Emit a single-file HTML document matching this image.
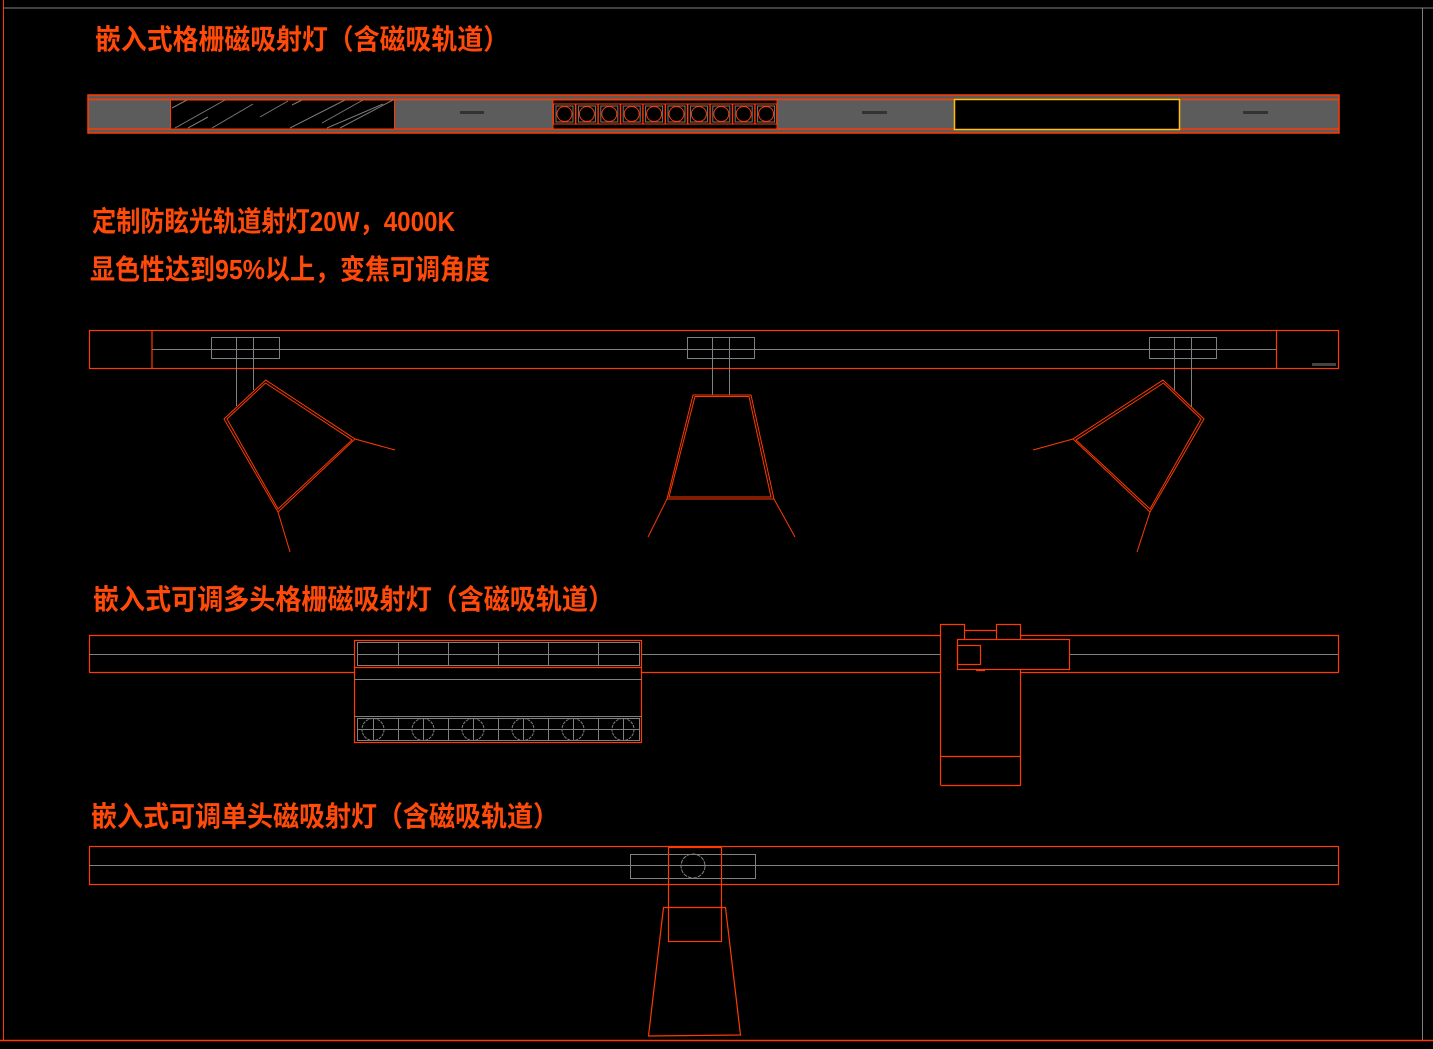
<!DOCTYPE html>
<html><head><meta charset="utf-8"><style>
html,body{margin:0;padding:0;background:#000;}
svg{display:block;}
text{font-family:"Liberation Sans","Noto Sans CJK SC","WenQuanYi Zen Hei",sans-serif;font-weight:bold;fill:#ff4a0a;}
</style></head><body>
<svg width="1433" height="1049" viewBox="0 0 1433 1049" xmlns="http://www.w3.org/2000/svg">
<rect width="1433" height="1049" fill="#000"/>
<!-- frame -->
<line x1="3" y1="8" x2="1433" y2="8" stroke="#808080" stroke-width="1"/>
<line x1="3.5" y1="0" x2="3.5" y2="1040" stroke="#ff3a00" stroke-width="1"/>
<line x1="1422.5" y1="8" x2="1422.5" y2="1040" stroke="#808080" stroke-width="1"/>
<line x1="0" y1="1040.5" x2="1433" y2="1040.5" stroke="#ff3a00" stroke-width="1.5"/>

<!-- titles -->
<text x="95" y="49" font-size="28" textLength="414" lengthAdjust="spacingAndGlyphs">嵌入式格栅磁吸射灯（含磁吸轨道）</text>
<text x="92" y="231" font-size="28" textLength="363" lengthAdjust="spacingAndGlyphs">定制防眩光轨道射灯20W，4000K</text>
<text x="90" y="279" font-size="28" textLength="400" lengthAdjust="spacingAndGlyphs">显色性达到95%以上，变焦可调角度</text>
<text x="93" y="609" font-size="28" textLength="521" lengthAdjust="spacingAndGlyphs">嵌入式可调多头格栅磁吸射灯（含磁吸轨道）</text>
<text x="91" y="826" font-size="28" textLength="468" lengthAdjust="spacingAndGlyphs">嵌入式可调单头磁吸射灯（含磁吸轨道）</text>

<!-- top bar -->
<rect x="88" y="95" width="1251" height="38" fill="#5c5c5c" stroke="#ff3a00" stroke-width="1.5"/>
<line x1="88" y1="99.5" x2="1339" y2="99.5" stroke="#ff3a00" stroke-width="1.5"/>
<line x1="88" y1="129" x2="1339" y2="129" stroke="#ff3a00" stroke-width="1.5"/>
<rect x="170.5" y="100" width="224" height="29" fill="#000" stroke="#ff3a00" stroke-width="1"/>
<g stroke="#7a7a7a" stroke-width="1">
<line x1="172" y1="108" x2="187" y2="100"/><line x1="175" y1="128" x2="225" y2="100"/>
<line x1="188" y1="128" x2="208" y2="117"/><line x1="212" y1="128" x2="253" y2="104"/>
<line x1="260" y1="117" x2="288" y2="101"/><line x1="292" y1="105" x2="302" y2="100"/>
<line x1="290" y1="128" x2="345" y2="100"/><line x1="322" y1="123" x2="363" y2="100"/>
<line x1="327" y1="128" x2="383" y2="104"/><line x1="340" y1="128" x2="393" y2="100"/>
</g>
<rect x="553" y="100" width="224" height="29" fill="#000" stroke="#ff3a00" stroke-width="1"/>
<g fill="none">
<rect x="553.5" y="104" width="22" height="20" stroke="#ff3a00"/><rect x="556" y="106" width="17" height="16" stroke="#777"/><circle cx="564.5" cy="114" r="7.5" stroke="#ff3a00"/>
<rect x="575.9" y="104" width="22" height="20" stroke="#ff3a00"/><rect x="578.4" y="106" width="17" height="16" stroke="#777"/><circle cx="586.9" cy="114" r="7.5" stroke="#ff3a00"/>
<rect x="598.3" y="104" width="22" height="20" stroke="#ff3a00"/><rect x="600.8" y="106" width="17" height="16" stroke="#777"/><circle cx="609.3" cy="114" r="7.5" stroke="#ff3a00"/>
<rect x="620.7" y="104" width="22" height="20" stroke="#ff3a00"/><rect x="623.2" y="106" width="17" height="16" stroke="#777"/><circle cx="631.7" cy="114" r="7.5" stroke="#ff3a00"/>
<rect x="643.1" y="104" width="22" height="20" stroke="#ff3a00"/><rect x="645.6" y="106" width="17" height="16" stroke="#777"/><circle cx="654.1" cy="114" r="7.5" stroke="#ff3a00"/>
<rect x="665.5" y="104" width="22" height="20" stroke="#ff3a00"/><rect x="668" y="106" width="17" height="16" stroke="#777"/><circle cx="676.5" cy="114" r="7.5" stroke="#ff3a00"/>
<rect x="687.9" y="104" width="22" height="20" stroke="#ff3a00"/><rect x="690.4" y="106" width="17" height="16" stroke="#777"/><circle cx="698.9" cy="114" r="7.5" stroke="#ff3a00"/>
<rect x="710.3" y="104" width="22" height="20" stroke="#ff3a00"/><rect x="712.8" y="106" width="17" height="16" stroke="#777"/><circle cx="721.3" cy="114" r="7.5" stroke="#ff3a00"/>
<rect x="732.7" y="104" width="22" height="20" stroke="#ff3a00"/><rect x="735.2" y="106" width="17" height="16" stroke="#777"/><circle cx="743.7" cy="114" r="7.5" stroke="#ff3a00"/>
<rect x="755.1" y="104" width="21.5" height="20" stroke="#ff3a00"/><rect x="757.6" y="106" width="17" height="16" stroke="#777"/><circle cx="766.1" cy="114" r="7.5" stroke="#ff3a00"/>
</g>
<rect x="954.5" y="99.5" width="225" height="30" fill="#000" stroke="#ffc000" stroke-width="1.5"/>
<g fill="#333"><rect x="460" y="111" width="24" height="3"/><rect x="862" y="111" width="25" height="3"/><rect x="1243" y="111" width="25" height="3"/></g>

<!-- track 2 -->
<g fill="none" stroke="#ff3a00" stroke-width="1.2">
<rect x="89.5" y="330.5" width="1249" height="38"/>
<line x1="152" y1="330" x2="152" y2="368"/><line x1="1276.5" y1="330" x2="1276.5" y2="368"/>
</g>
<g fill="none" stroke="#808080" stroke-width="1">
<line x1="152" y1="349.5" x2="1276" y2="349.5"/>
<rect x="211.5" y="337.5" width="68" height="21"/><line x1="236.5" y1="337" x2="236.5" y2="406"/><line x1="253.5" y1="337" x2="253.5" y2="390"/>
<rect x="687.5" y="337.5" width="67" height="21"/><line x1="712.5" y1="337" x2="712.5" y2="395"/><line x1="729.5" y1="337" x2="729.5" y2="395"/>
<rect x="1149.5" y="337.5" width="67" height="21"/><line x1="1174.5" y1="337" x2="1174.5" y2="390"/><line x1="1191.5" y1="337" x2="1191.5" y2="407"/>
</g>
<rect x="1312" y="363" width="24" height="3" fill="#444"/>
<g fill="none" stroke="#ff3a00" stroke-width="1">
<polygon points="265.7,380 355,439 278,512 224,419"/>
<polygon points="265.5,383 352,440 278,509 227,419"/>
<polyline points="355,439 395,450"/><polyline points="278,512 290,552"/>
<polygon points="1163,380 1073,439 1150,512 1204,419"/>
<polygon points="1163.5,383 1076,440 1150,509 1201,419"/>
<polyline points="1073,439 1033,450"/><polyline points="1150,512 1137,552"/>
<polygon points="693,395 751,395 774,499 667,499"/>
<polygon points="695,396.5 749,396.5 771,497 669,497"/>
<polyline points="667,499 648,537"/><polyline points="774,499 795,537"/>
</g>

<!-- track 3 -->
<g fill="none" stroke="#ff3a00" stroke-width="1.2">
<line x1="89.5" y1="635" x2="89.5" y2="672"/><line x1="1338.5" y1="635" x2="1338.5" y2="672"/>
<line x1="89" y1="635.5" x2="940" y2="635.5"/><line x1="1020" y1="635.5" x2="1339" y2="635.5"/>
<line x1="89" y1="672.5" x2="940" y2="672.5"/><line x1="1020" y1="672.5" x2="1339" y2="672.5"/>
</g>
<g stroke="#808080" stroke-width="1">
<line x1="89" y1="654.5" x2="940" y2="654.5"/><line x1="1069" y1="654.5" x2="1338" y2="654.5"/>
</g>
<rect x="354.5" y="640.5" width="287" height="102" fill="#000" stroke="#ff3a00" stroke-width="1.2"/>
<line x1="354" y1="667.5" x2="642" y2="667.5" stroke="#ff3a00" stroke-width="1.2"/>
<g fill="none" stroke="#808080" stroke-width="1">
<rect x="357.5" y="642.5" width="282" height="23"/><line x1="357" y1="654.5" x2="640" y2="654.5"/>
<line x1="398.5" y1="642" x2="398.5" y2="666"/><line x1="448.5" y1="642" x2="448.5" y2="666"/><line x1="498.5" y1="642" x2="498.5" y2="666"/><line x1="548.5" y1="642" x2="548.5" y2="666"/><line x1="598.5" y1="642" x2="598.5" y2="666"/>
<line x1="354" y1="679.5" x2="642" y2="679.5"/><line x1="354" y1="716.5" x2="642" y2="716.5"/>
<rect x="357.5" y="718.5" width="282" height="22"/><line x1="357" y1="729.5" x2="640" y2="729.5"/>
<line x1="398.5" y1="718" x2="398.5" y2="741"/><line x1="448.5" y1="718" x2="448.5" y2="741"/><line x1="498.5" y1="718" x2="498.5" y2="741"/><line x1="548.5" y1="718" x2="548.5" y2="741"/><line x1="598.5" y1="718" x2="598.5" y2="741"/>
<circle cx="373" cy="729.5" r="11" stroke-dasharray="3 1"/><line x1="373.5" y1="718" x2="373.5" y2="741"/>
<circle cx="423" cy="729.5" r="11" stroke-dasharray="3 1"/><line x1="423.5" y1="718" x2="423.5" y2="741"/>
<circle cx="473" cy="729.5" r="11" stroke-dasharray="3 1"/><line x1="473.5" y1="718" x2="473.5" y2="741"/>
<circle cx="523" cy="729.5" r="11" stroke-dasharray="3 1"/><line x1="523.5" y1="718" x2="523.5" y2="741"/>
<circle cx="573" cy="729.5" r="11" stroke-dasharray="3 1"/><line x1="573.5" y1="718" x2="573.5" y2="741"/>
<circle cx="623" cy="729.5" r="11" stroke-dasharray="3 1"/><line x1="623.5" y1="718" x2="623.5" y2="741"/>
</g>
<g fill="none" stroke="#ff3a00" stroke-width="1.2">
<polyline points="940.5,785 940.5,624.5 964.5,624.5 964.5,639"/>
<line x1="964" y1="630.5" x2="996" y2="630.5"/>
<polyline points="996.5,639 996.5,624.5 1020.5,624.5 1020.5,785.5 940.5,785.5"/>
<line x1="940" y1="756.5" x2="1020" y2="756.5"/>
<rect x="957.5" y="639.5" width="112" height="30" fill="#000"/>
<rect x="957.5" y="645.5" width="23" height="19"/>
<line x1="976" y1="670.5" x2="985" y2="670.5"/>
</g>

<!-- track 4 -->
<g fill="none" stroke="#ff3a00" stroke-width="1.2">
<rect x="89.5" y="846.5" width="1249" height="38"/>
</g>
<g fill="none" stroke="#808080" stroke-width="1">
<line x1="89" y1="865.5" x2="1338" y2="865.5"/>
<rect x="630.5" y="854.5" width="125" height="24"/>
<circle cx="693" cy="866" r="12" stroke-dasharray="4 1"/>
</g>
<g fill="none" stroke="#ff3a00" stroke-width="1.2">
<rect x="668.5" y="847.5" width="53" height="94"/>
<polygon points="663.5,907.5 725.5,907.5 740.5,1035 648.5,1036"/>
</g>
</svg>
</body></html>
